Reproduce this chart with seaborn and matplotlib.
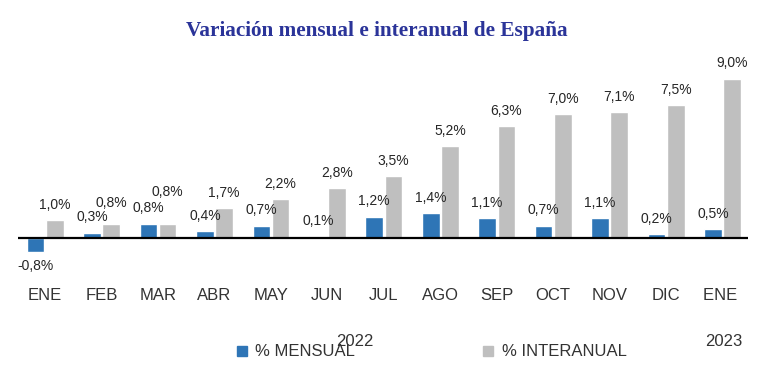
import matplotlib
matplotlib.use("Agg")
import matplotlib.pyplot as plt
import seaborn as sns
import pandas as pd
from matplotlib.lines import Line2D

months = ["ENE", "FEB", "MAR", "ABR", "MAY", "JUN", "JUL", "AGO", "SEP", "OCT", "NOV", "DIC", "ENE "]
mensual = [-0.8, 0.3, 0.8, 0.4, 0.7, 0.1, 1.2, 1.4, 1.1, 0.7, 1.1, 0.2, 0.5]
interanual = [1.0, 0.8, 0.8, 1.7, 2.2, 2.8, 3.5, 5.2, 6.3, 7.0, 7.1, 7.5, 9.0]
series = ["% MENSUAL", "% INTERANUAL"]
years = ["2022", "2023"]
title = "Variación mensual e interanual de España"

df = pd.DataFrame({
    "mes": months * 2,
    "valor": mensual + interanual,
    "serie": [series[0]] * len(months) + [series[1]] * len(months),
})

colors = {series[0]: "#2E75B6", series[1]: "#BFBFBF"}

sns.set_theme(style="white")
plt.rcParams["font.family"] = ["Liberation Sans", "DejaVu Sans"]

fig = plt.figure(figsize=(7.68, 3.77), dpi=100)
ax = fig.add_axes([18 / 768, 1 - 264.5 / 377, 730 / 768, 203.5 / 377])

sns.barplot(data=df, x="mes", y="valor", hue="serie", palette=colors,
            width=0.68, gap=0.08, ax=ax, legend=False, saturation=1)

ax.set_ylim(-1.5, 10.0)
ax.set_xlim(-0.48, len(months) - 0.55)
for s in ax.spines.values():
    s.set_visible(False)
ax.set_yticks([])
ax.set_xlabel("")
ax.set_ylabel("")
ax.axhline(0, color="black", lw=1.6, zorder=5)

ax.tick_params(axis="x", length=0, labelsize=12, pad=17, colors="#333333")

# extra vertical offsets (points) used to avoid overlapping labels, as in the reference
extra = {(1, 1): 4, (1, 2): 12}

for ci, cont in enumerate(ax.containers):
    for i, rect in enumerate(cont):
        h = rect.get_height()
        x = rect.get_x() + rect.get_width() / 2
        lbl = f"{h:.1f}".replace(".", ",") + "%"
        if h >= 0:
            ax.annotate(lbl, (x, h), xytext=(0, 6 + extra.get((ci, i), 0)),
                        textcoords="offset points", ha="center", va="bottom",
                        fontsize=10, color="#262626")
        else:
            ax.annotate(lbl, (x, h), xytext=(0, -5), textcoords="offset points",
                        ha="center", va="top", fontsize=10, color="#262626")

fig.text(377 / 768, 1 - 31 / 377, title, ha="center", va="center",
         fontsize=15.3, fontweight="bold", color="#2B3499",
         family=["Liberation Serif", "DejaVu Serif"])

fig.text(355 / 768, 1 - 341 / 377, years[0], ha="center", va="center",
         fontsize=12, color="#333333")
fig.text(724 / 768, 1 - 341 / 377, years[1], ha="center", va="center",
         fontsize=12, color="#333333")

handles = [Line2D([], [], marker="s", ls="", color=colors[s], markersize=6.5) for s in series]
fig.legend(handles, series, loc="center", bbox_to_anchor=(430 / 768, 1 - 352 / 377),
           ncol=2, frameon=False, fontsize=12, columnspacing=7.5,
           handletextpad=0.3, handlelength=1.0, labelcolor="#333333")

fig.savefig("out.png", dpi=100)
